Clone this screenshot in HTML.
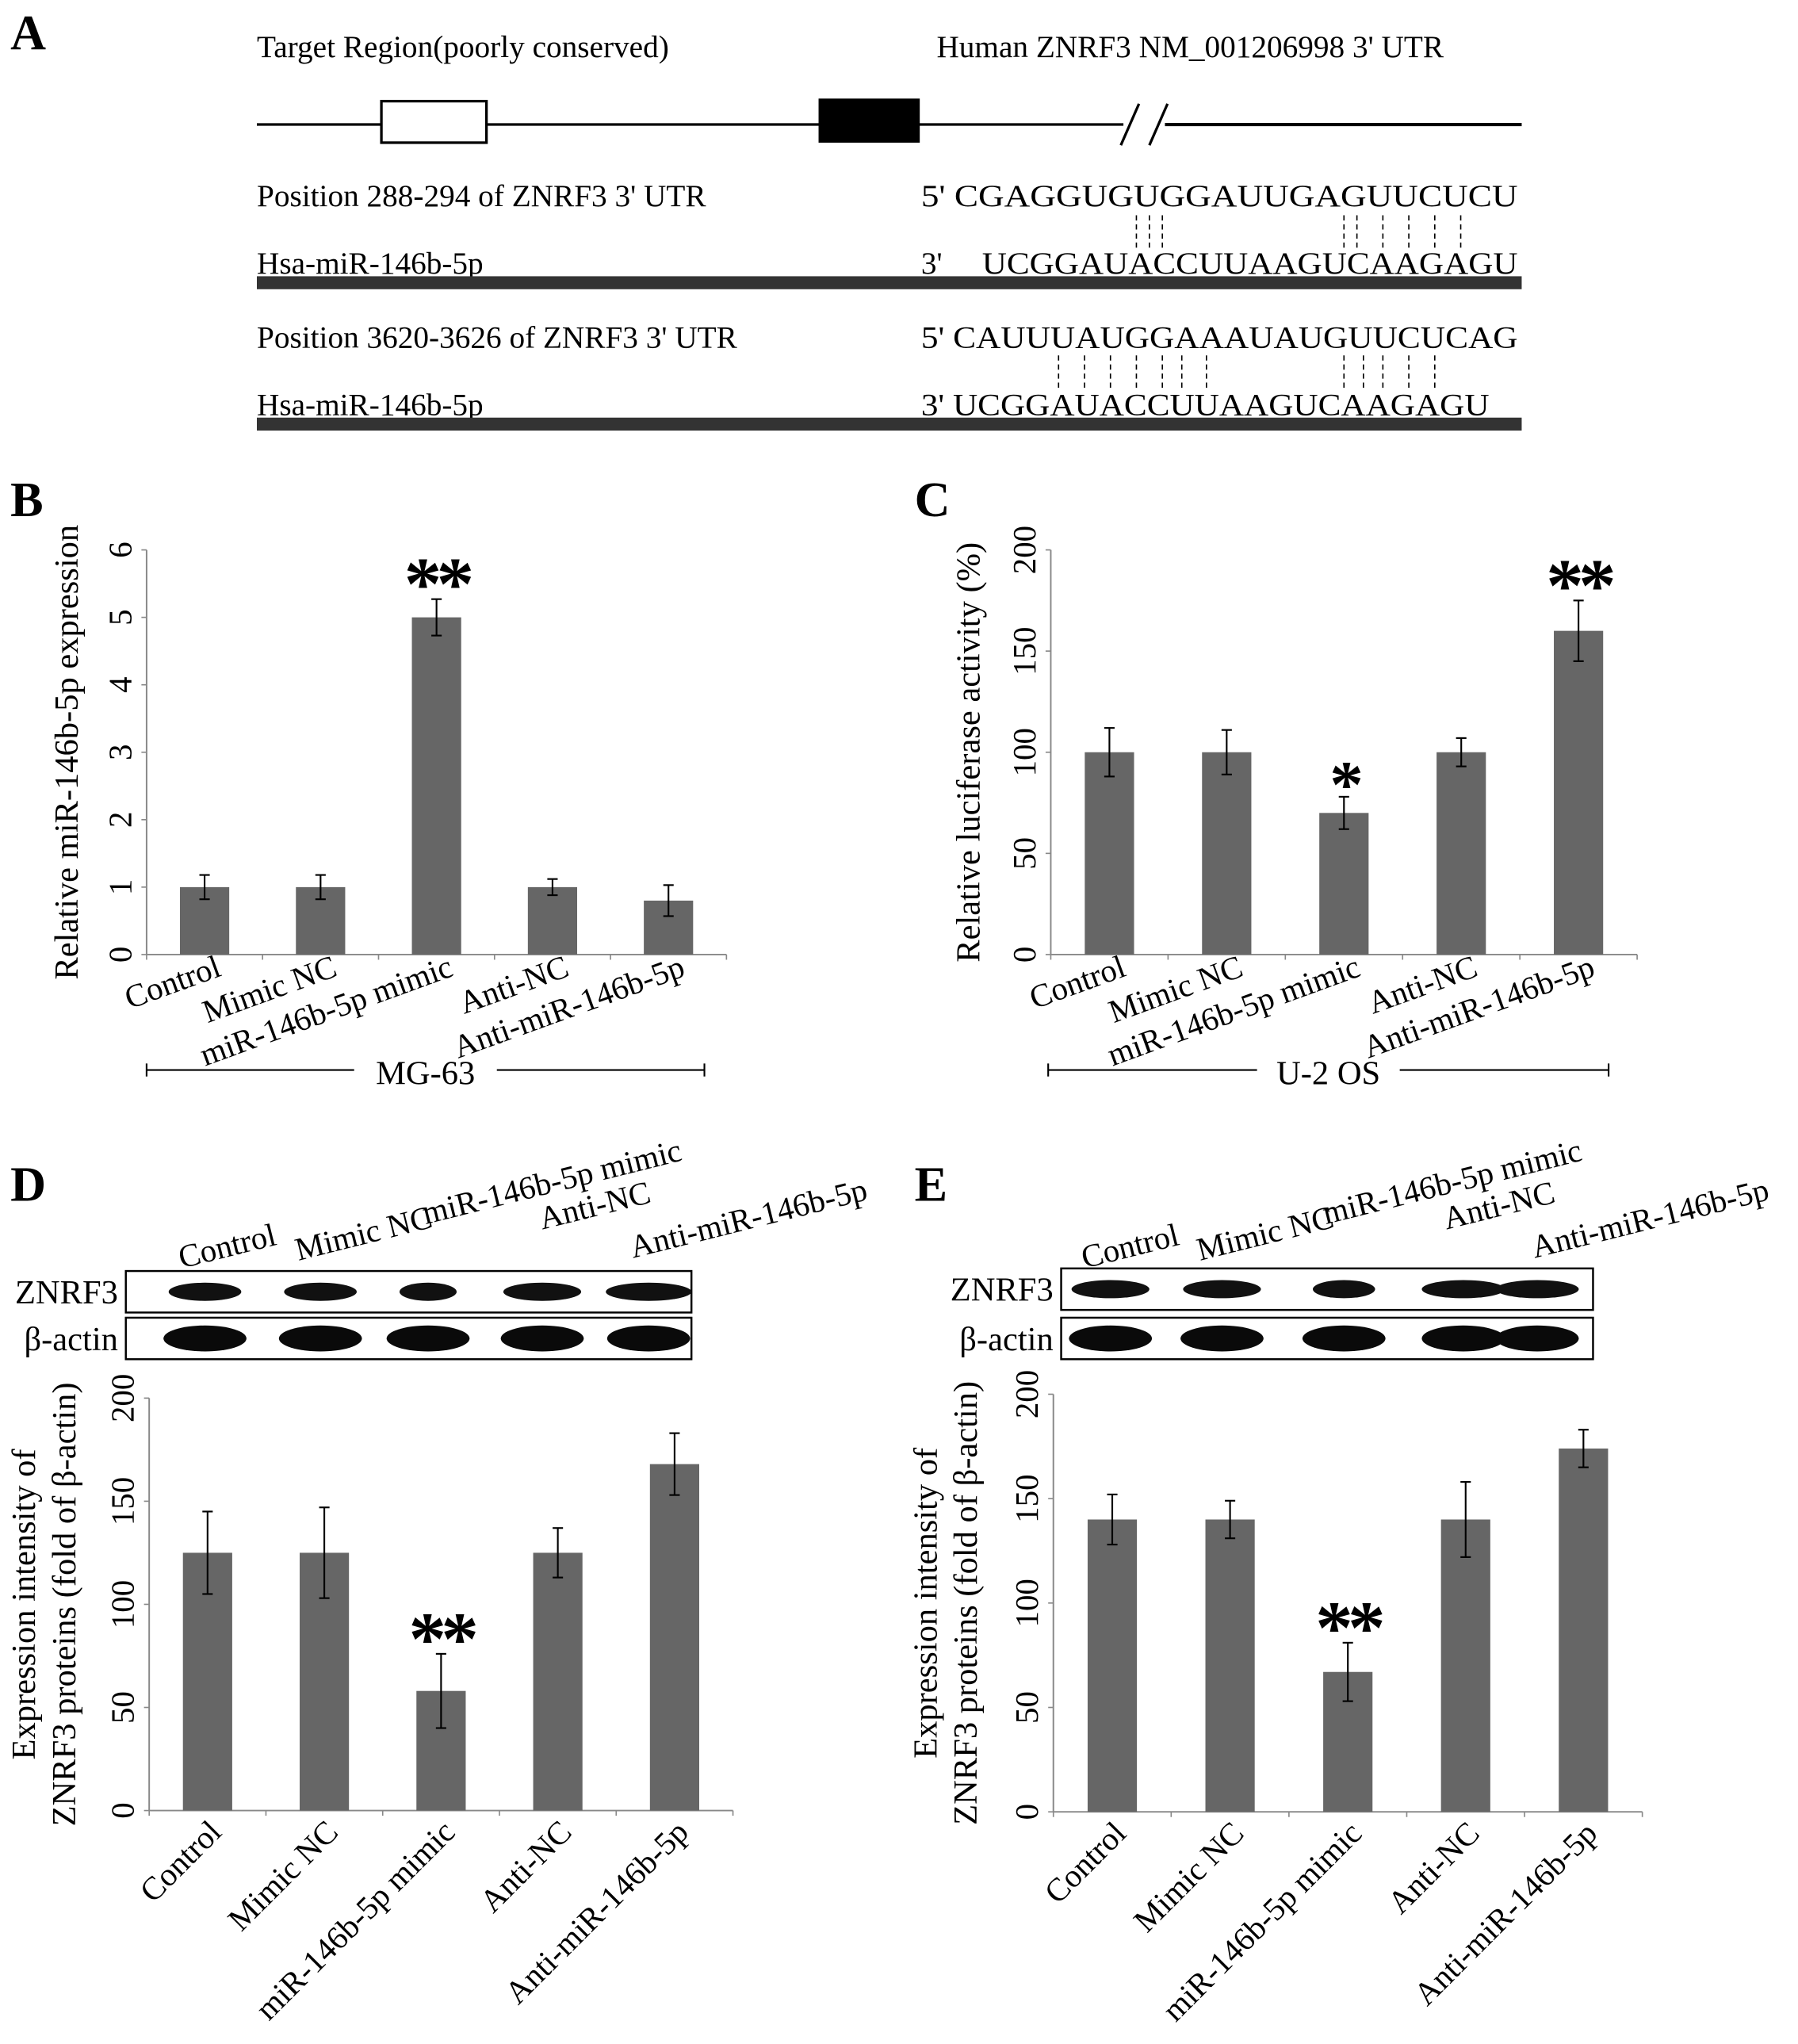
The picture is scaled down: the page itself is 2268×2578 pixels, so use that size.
<!DOCTYPE html>
<html><head><meta charset="utf-8"><style>
html,body{margin:0;padding:0;background:#fff}
svg{display:block}
text{font-family:"Liberation Serif",serif;fill:#000}
</style></head><body>
<svg id="fig" width="2268" height="2578" viewBox="0 0 1386 1576" preserveAspectRatio="none" xmlns="http://www.w3.org/2000/svg">
<g>
<text x="8" y="38" font-size="38" font-weight="bold">A</text>
<text x="198" y="44" font-size="24">Target Region(poorly conserved)</text>
<text x="722" y="44" font-size="24">Human ZNRF3 NM_001206998  3' UTR</text>
<line x1="198" y1="96" x2="866" y2="96" stroke="#000" stroke-width="2"/>
<line x1="898" y1="96" x2="1173" y2="96" stroke="#000" stroke-width="2.5"/>
<rect x="294" y="78" width="81" height="32" fill="#fff" stroke="#000" stroke-width="2"/>
<rect x="631" y="76" width="78" height="34" fill="#000"/>
<line x1="864" y1="112" x2="878" y2="80" stroke="#000" stroke-width="2"/>
<line x1="886" y1="112" x2="900" y2="80" stroke="#000" stroke-width="2"/>
<text x="198" y="159" font-size="24">Position 288-294 of ZNRF3 3' UTR</text>
<text x="710" y="159" font-size="24" textLength="460" lengthAdjust="spacingAndGlyphs">5' CGAGGUGUGGAUUGAGUUCUCU</text>
<text x="198" y="211" font-size="24">Hsa-miR-146b-5p</text>
<text x="710" y="211" font-size="24">3'</text>
<text x="757" y="211" font-size="24" textLength="413" lengthAdjust="spacingAndGlyphs">UCGGAUACCUUAAGUCAAGAGU</text>
<rect x="198" y="213" width="975" height="10" fill="#333"/>
<g stroke="#000" stroke-width="1" stroke-dasharray="4,3">
<line x1="876" y1="166" x2="876" y2="192"/><line x1="886" y1="166" x2="886" y2="192"/><line x1="896" y1="166" x2="896" y2="192"/>
<line x1="1036" y1="166" x2="1036" y2="192"/><line x1="1046" y1="166" x2="1046" y2="192"/><line x1="1066" y1="166" x2="1066" y2="192"/><line x1="1086" y1="166" x2="1086" y2="192"/><line x1="1106" y1="166" x2="1106" y2="192"/><line x1="1126" y1="166" x2="1126" y2="192"/>
<line x1="816" y1="274" x2="816" y2="302"/><line x1="836" y1="274" x2="836" y2="302"/><line x1="856" y1="274" x2="856" y2="302"/><line x1="876" y1="274" x2="876" y2="302"/><line x1="896" y1="274" x2="896" y2="302"/><line x1="911" y1="274" x2="911" y2="302"/><line x1="930" y1="274" x2="930" y2="302"/>
<line x1="1036" y1="274" x2="1036" y2="302"/><line x1="1051" y1="274" x2="1051" y2="302"/><line x1="1066" y1="274" x2="1066" y2="302"/><line x1="1086" y1="274" x2="1086" y2="302"/><line x1="1106" y1="274" x2="1106" y2="302"/>
</g>
<text x="198" y="268" font-size="24">Position 3620-3626 of ZNRF3 3' UTR</text>
<text x="710" y="268" font-size="24" textLength="460" lengthAdjust="spacingAndGlyphs">5' CAUUUAUGGAAAUAUGUUCUCAG</text>
<text x="198" y="320" font-size="24">Hsa-miR-146b-5p</text>
<text x="710" y="320" font-size="24" textLength="438" lengthAdjust="spacingAndGlyphs">3' UCGGAUACCUUAAGUCAAGAGU</text>
<rect x="198" y="322" width="975" height="10" fill="#333"/>
</g>
<text x="8" y="398" font-size="38" font-weight="bold">B</text>
<text x="705" y="398" font-size="38" font-weight="bold">C</text>
<text x="8" y="926" font-size="38" font-weight="bold">D</text>
<text x="705" y="926" font-size="38" font-weight="bold">E</text>
<g id="charts"></g>
</svg>
<script>
const categories = ["Control","Mimic NC","miR-146b-5p mimic","Anti-NC","Anti-miR-146b-5p"];
const bValues = [1,1,5,1,0.8];
const bErrors = [0.18,0.18,0.27,0.12,0.23];
const bTicks = [0,1,2,3,4,5,6];
const cValues = [100,100,70,100,160];
const cErrors = [12,11,8,7,15];
const cTicks = [0,50,100,150,200];
const dValues = [125,125,58,125,168];
const dErrors = [20,22,18,12,15];
const dTicks = [0,50,100,150,200];
const eValues = [140,140,67,140,174];
const eErrors = [12,9,14,18,9];
const eTicks = [0,50,100,150,200];
const bStars = ["","","**","",""];
const cStars = ["","","*","","**"];
const dStars = ["","","**","",""];
const eStars = ["","","**","",""];

const NS="http://www.w3.org/2000/svg";
const root=document.getElementById('charts');
function mk(tag,attrs,parent,txt){const e=document.createElementNS(NS,tag);for(const k in attrs)e.setAttribute(k,attrs[k]);if(txt!==undefined)e.textContent=txt;(parent||root).appendChild(e);return e;}

function chart(cfg){
  const g=mk('g',{});
  
  
  const maxV=cfg.ticks[cfg.ticks.length-1];
  const y=v=>cfg.y0-(v/maxV)*(cfg.y0-cfg.yTop);
  const step=(cfg.x1-cfg.x0)/cfg.values.length;
  const x=i=>cfg.x0+step*(i+0.5);
  mk('line',{x1:cfg.x0,y1:cfg.yTop,x2:cfg.x0,y2:cfg.y0,stroke:'#888','stroke-width':1.2},g);
  mk('line',{x1:cfg.x0,y1:cfg.y0,x2:cfg.x1,y2:cfg.y0,stroke:'#888','stroke-width':1.2},g);
  cfg.ticks.forEach(t=>{
    mk('line',{x1:cfg.x0-4,y1:y(t),x2:cfg.x0,y2:y(t),stroke:'#888'},g);
    const tx=mk('text',{x:cfg.x0-12,y:y(t),'font-size':25,'text-anchor':'middle',transform:`rotate(-90 ${cfg.x0-12} ${y(t)})`},g,String(t));
    
    
  });
  for(let i=0;i<=cfg.values.length;i++) mk('line',{x1:cfg.x0+step*i,y1:cfg.y0,x2:cfg.x0+step*i,y2:cfg.y0+4,stroke:'#888'},g);
  cfg.values.forEach((v,i)=>{
    const r=mk('rect',{x:x(i)-19,y:y(v),width:38,height:cfg.y0-y(v),fill:'#666'},g);
    
    
    const e=cfg.errors[i];
    mk('line',{x1:x(i),y1:y(v+e),x2:x(i),y2:y(v-e),stroke:'#000','stroke-width':1.3},g);
    mk('line',{x1:x(i)-4,y1:y(v+e),x2:x(i)+4,y2:y(v+e),stroke:'#000','stroke-width':1.3},g);
    mk('line',{x1:x(i)-4,y1:y(v-e),x2:x(i)+4,y2:y(v-e),stroke:'#000','stroke-width':1.3},g);
    if(cfg.stars[i]){
      const s=mk('text',{x:x(i),y:y(v+e)+8,'font-size':cfg.stars[i]=='*'?52:58,'font-weight':'bold','text-anchor':'middle','font-family':'Liberation Sans, sans-serif','letter-spacing':'-4'},g,cfg.stars[i]);
      
      
    }
    const lx=x(i)+cfg.labDx, ly=cfg.y0+cfg.labDy;
    const t=mk('text',{x:lx,y:ly,'font-size':25,'text-anchor':'end',transform:`rotate(${cfg.rot} ${lx} ${ly})`},g,categories[i]);
    
    
  });
  const yl=mk('text',{x:cfg.ylx,y:(cfg.y0+cfg.yTop)/2,'font-size':26,'text-anchor':'middle',transform:`rotate(-90 ${cfg.ylx} ${(cfg.y0+cfg.yTop)/2})`},g,cfg.ylabel);
  
  
  if(cfg.ylabel2){
    const y2=mk('text',{x:cfg.ylx+31,y:(cfg.y0+cfg.yTop)/2,'font-size':26,'text-anchor':'middle',transform:`rotate(-90 ${cfg.ylx+31} ${(cfg.y0+cfg.yTop)/2})`},g,cfg.ylabel2);
    
    
  }
  return g;
}
function bracket(x0,x1,yy,label,name){
  const g=mk('g',{});
  
  
  const mid=(x0+x1)/2;
  mk('line',{x1:x0,y1:yy,x2:mid-55,y2:yy,stroke:'#000','stroke-width':1.3},g);
  mk('line',{x1:mid+55,y1:yy,x2:x1,y2:yy,stroke:'#000','stroke-width':1.3},g);
  mk('line',{x1:x0,y1:yy-5,x2:x0,y2:yy+5,stroke:'#000','stroke-width':1.3},g);
  mk('line',{x1:x1,y1:yy-5,x2:x1,y2:yy+5,stroke:'#000','stroke-width':1.3},g);
  mk('text',{x:mid,y:yy+11,'font-size':26,'text-anchor':'middle'},g,label);
}
function blot(bx0,bx1,y1,y2,centers,zw,aw,lab,name,labY,labX){
  const g=mk('g',{});
  
  
  mk('rect',{x:bx0,y:y1,width:bx1-bx0,height:32,fill:'#fff',stroke:'#000','stroke-width':1.5},g);
  mk('rect',{x:bx0,y:y2,width:bx1-bx0,height:32,fill:'#fff',stroke:'#000','stroke-width':1.5},g);
  mk('text',{x:bx0-6,y:y1+25,'font-size':26,'text-anchor':'end'},g,'ZNRF3');
  mk('text',{x:bx0-6,y:y2+25,'font-size':26,'text-anchor':'end'},g,'β-actin');
  centers.forEach((c,i)=>{
    mk('ellipse',{cx:c,cy:y1+16,rx:zw[i],ry:7,fill:'#111'},g);
    mk('ellipse',{cx:c,cy:y2+16,rx:aw,ry:10,fill:'#0a0a0a'},g);
    const t=mk('text',{x:labX[i],y:labY[i],'font-size':25,transform:`rotate(-14 ${labX[i]} ${labY[i]})`},g,lab[i]);
    
    
  });
}
chart({name:'chart-b',x0:113,x1:560,y0:736,yTop:424,values:bValues,errors:bErrors,ticks:bTicks,stars:bStars,rot:-20,labDx:14,labDy:16,ylx:60,ylabel:'Relative miR-146b-5p expression'});
chart({name:'chart-c',x0:810,x1:1262,y0:736,yTop:424,values:cValues,errors:cErrors,ticks:cTicks,stars:cStars,rot:-20,labDx:14,labDy:16,ylx:755,ylabel:'Relative luciferase activity (%)'});
bracket(113,543,825,'MG-63','bracket-mg63');
bracket(808,1240,825,'U-2 OS','bracket-u2os');
chart({name:'chart-d',x0:115,x1:565,y0:1396,yTop:1078,values:dValues,errors:dErrors,ticks:dTicks,stars:dStars,rot:-45,labDx:12,labDy:18,ylx:27,ylabel:'Expression intensity of',ylabel2:'ZNRF3  proteins (fold of β-actin)'});
chart({name:'chart-e',x0:812,x1:1266,y0:1397,yTop:1075,values:eValues,errors:eErrors,ticks:eTicks,stars:eStars,rot:-45,labDx:12,labDy:18,ylx:722,ylabel:'Expression intensity of',ylabel2:'ZNRF3  proteins (fold of β-actin)'});
blot(97,533,980,1016,[158,247,330,418,500],[28,28,22,30,33],32,categories,'western-blot-d',[978,972,944,948,970],[140,230,328,418,488]);
blot(818,1228,978,1016,[856,942,1036,1128,1185],[30,30,24,32,32],32,categories,'western-blot-e',[978,972,944,948,970],[836,925,1022,1115,1183]);
</script>
</body></html>
